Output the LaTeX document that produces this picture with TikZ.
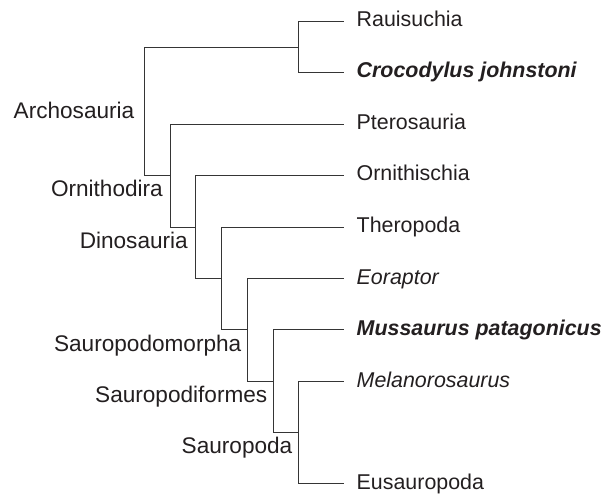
\documentclass[tikz,border=0pt]{standalone}
\usepackage{fontspec}
\setmainfont{Liberation Sans}
\usepackage{tikz}
\usetikzlibrary{positioning}
\definecolor{treeline}{HTML}{353535}
\definecolor{treetext}{HTML}{231F20}

\begin{document}
\begin{tikzpicture}[
    x=1pt, y=-1pt,
    leaf/.style={anchor=west, inner xsep=12.5pt, inner ysep=0pt, text height=15.5pt, text depth=4.5pt,
        text=treetext, font=\fontsize{21.4}{24}\selectfont},
    clade/.style={inner xsep=6pt, inner ysep=0pt, text height=16.4pt, text depth=4.8pt,
        text=treetext, font=\fontsize{22.6}{26}\selectfont},
    branch/.style={draw=treeline, line width=1.2pt}
]
    \useasboundingbox (0,0) rectangle (604,494);

    % terminal taxa
    \node (rau)   [leaf] at (344,21.5)  {Rauisuchia};
    \node (croc)  [leaf] at (344,72.5)  {\bfseries\itshape Crocodylus johnstoni};
    \node (ptero) [leaf] at (344,124.5) {Pterosauria};
    \node (ornth) [leaf] at (344,175.5) {Ornithischia};
    \node (thero) [leaf] at (344,227.5) {Theropoda};
    \node (eora)  [leaf] at (344,278.5) {\itshape Eoraptor};
    \node (muss)  [leaf] at (344,329.5) {\bfseries\itshape Mussaurus patagonicus};
    \node (mela)  [leaf] at (344,381.5) {\itshape Melanorosaurus};
    \node (eusau) [leaf] at (344,483.5) {Eusauropoda};

    % internal nodes
    \coordinate (pseudo) at (298.5,47.5);
    \coordinate (archo)  at (144.5,111.5);
    \coordinate (ornd)   at (170.5,175.5);
    \coordinate (dino)   at (195.5,227.5);
    \coordinate (sauri)  at (221.5,278.5);
    \coordinate (smorph) at (247.5,329.5);
    \coordinate (sform)  at (273.5,381.5);
    \coordinate (spoda)  at (298.5,432.5);

    % clade names
    \node (archolab)  [clade, left=4pt of archo, yshift=-1pt]       {Archosauria};
    \node (orndlab)   [clade, left=1.5pt of ornd, yshift=-15.5pt]   {Ornithodira};
    \node (dinolab)   [clade, left=1.5pt of dino, yshift=-15.5pt]   {Dinosauria};
    \node (smorphlab) [clade, left=0pt of smorph, yshift=-16pt]     {Sauropodomorpha};
    \node (sformlab)  [clade, left=0pt of sform, yshift=-15pt]      {Sauropodiformes};
    \node (spodalab)  [clade, left=0pt of spoda, yshift=-15pt]      {Sauropoda};

    % branches
    \draw [branch] (pseudo) |- (rau.west);
    \draw [branch] (pseudo) |- (croc.west);
    \draw [branch] (archo) |- (pseudo);
    \draw [branch] (archo) |- (ornd);
    \draw [branch] (ornd) |- (ptero.west);
    \draw [branch] (ornd) |- (dino);
    \draw [branch] (dino) |- (ornth.west);
    \draw [branch] (dino) |- (sauri);
    \draw [branch] (sauri) |- (thero.west);
    \draw [branch] (sauri) |- (smorph);
    \draw [branch] (smorph) |- (eora.west);
    \draw [branch] (smorph) |- (sform);
    \draw [branch] (sform) |- (muss.west);
    \draw [branch] (sform) |- (spoda);
    \draw [branch] (spoda) |- (mela.west);
    \draw [branch] (spoda) |- (eusau.west);
\end{tikzpicture}
\end{document}
